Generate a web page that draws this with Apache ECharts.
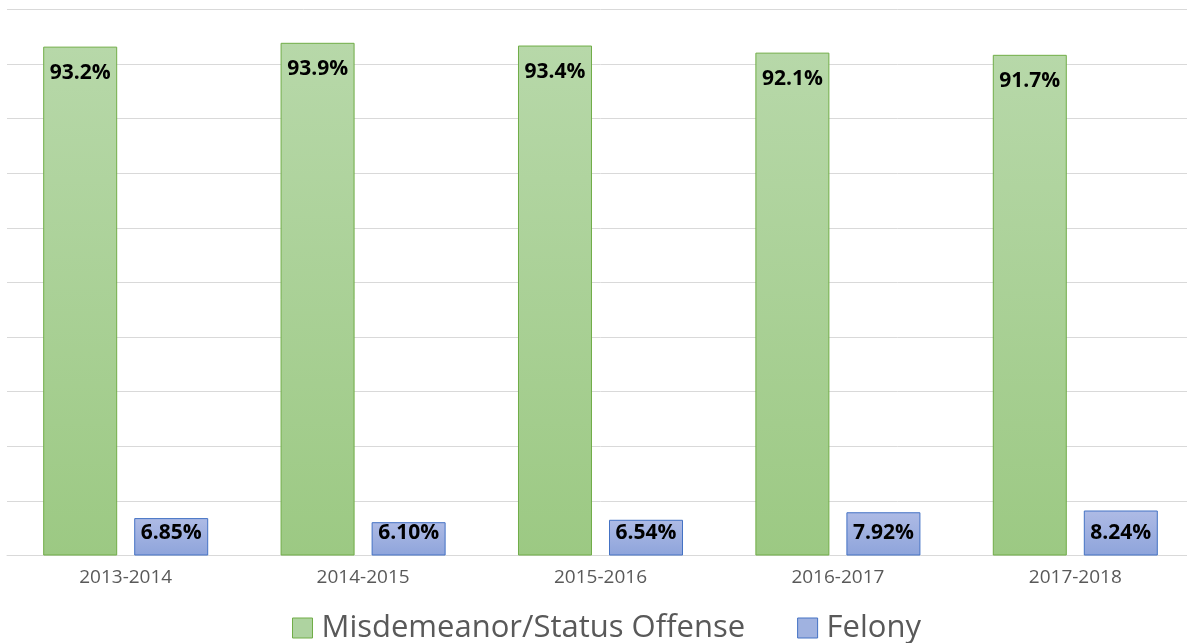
<!DOCTYPE html>
<html>
<head>
<meta charset="utf-8">
<script src="https://cdn.jsdelivr.net/npm/echarts@6/dist/echarts.min.js"></script>
<style>html,body{margin:0;padding:0;background:#fff;overflow:hidden;width:1187px;height:643px}#c{width:1194px;height:643px}</style>
</head>
<body>
<div id="c"></div>
<script>
const categories = ['2013-2014', '2014-2015', '2015-2016', '2016-2017', '2017-2018'];
const misdemeanor = [93.2, 93.9, 93.4, 92.1, 91.7];
const felony = [6.85, 6.10, 6.54, 7.92, 8.24];
const misdemeanorLabels = ['93.2%', '93.9%', '93.4%', '92.1%', '91.7%'];
const felonyLabels = ['6.85%', '6.10%', '6.54%', '7.92%', '8.24%'];

const FONT = '"Open Sans", sans-serif';
const greenFill = new echarts.graphic.LinearGradient(0, 0, 0, 1, [
  {offset: 0, color: '#b7d8a9'}, {offset: 1, color: '#9cc983'}]);
const blueFill = new echarts.graphic.LinearGradient(0, 0, 0, 1, [
  {offset: 0, color: '#aebbe5'}, {offset: 1, color: '#8ea4db'}]);

const chart = echarts.init(document.getElementById('c'), null, {renderer: 'canvas'});
chart.setOption({
  animation: false,
  backgroundColor: '#ffffff',
  grid: {left: 7, top: 9.5, right: 0, bottom: 87.5, containLabel: false},
  legend: {
    top: 606,
    left: 287,
    itemWidth: 20,
    itemHeight: 20,
    itemGap: 52,
    icon: 'rect',
    textStyle: {fontFamily: FONT, fontSize: 31, color: '#595959', lineHeight: 34, padding: [0, 0, 0, 4]},
    data: [
      {name: 'Misdemeanor/Status Offense', itemStyle: {color: '#aed3a0', borderColor: '#70ad47', borderWidth: 1}},
      {name: 'Felony', itemStyle: {color: '#a0b2e0', borderColor: '#4472c4', borderWidth: 1}}
    ]
  },
  xAxis: {
    type: 'category',
    data: categories,
    axisLine: {show: true, lineStyle: {color: '#d9d9d9', width: 1}},
    axisTick: {show: false},
    axisLabel: {fontFamily: FONT, fontSize: 19, color: '#595959', margin: 12, lineHeight: 20}
  },
  yAxis: {
    type: 'value',
    min: 0, max: 100, interval: 10,
    axisLabel: {show: false},
    axisLine: {show: false},
    axisTick: {show: false},
    splitLine: {lineStyle: {color: '#d9d9d9', width: 1}}
  },
  series: [
    {
      name: 'Misdemeanor/Status Offense',
      type: 'bar',
      data: misdemeanor,
      barWidth: 74,
      barGap: '23%',
      itemStyle: {color: greenFill, borderColor: '#70ad47', borderWidth: 1},
      label: {
        show: true, position: 'insideTop', distance: 14,
        fontFamily: FONT, fontSize: 21, fontWeight: 'bold', color: '#000', lineHeight: 24,
        formatter: p => misdemeanorLabels[p.dataIndex]
      }
    },
    {
      name: 'Felony',
      type: 'bar',
      data: felony,
      barWidth: 74,
      itemStyle: {color: blueFill, borderColor: '#4472c4', borderWidth: 1},
      label: {
        show: true, position: 'insideBottom', distance: 10,
        fontFamily: FONT, fontSize: 21, fontWeight: 'bold', color: '#000', lineHeight: 24,
        formatter: p => felonyLabels[p.dataIndex]
      }
    }
  ]
});
</script>
</body>
</html>
